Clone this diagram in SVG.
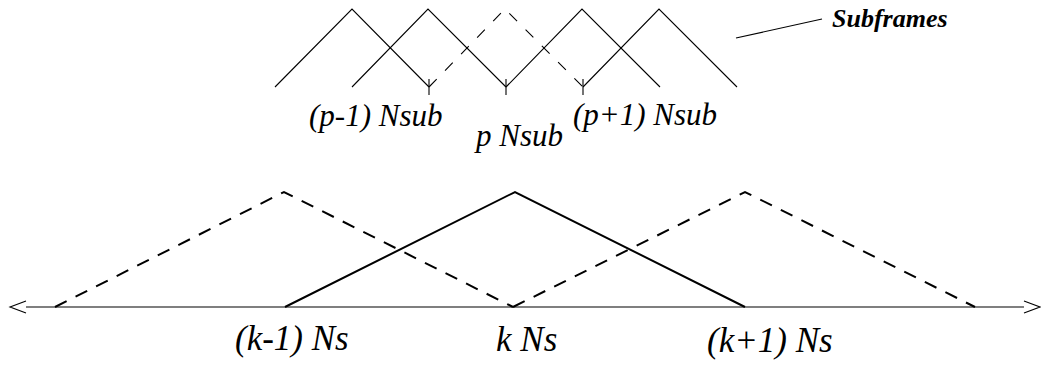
<svg xmlns="http://www.w3.org/2000/svg" width="1041" height="373" viewBox="0 0 1041 373">
<style>
.thin{fill:none;stroke:#000;stroke-width:1.1}
.thick{fill:none;stroke:#000;stroke-width:2}
.dash{stroke-dasharray:13 10}
.dashs{stroke-dasharray:11 12}
text{font-family:'Liberation Serif','Times New Roman',Times,serif;font-style:italic;fill:#000}
</style>
<g id="subframes">
<polyline class="thin" points="275,87 352,9 429,87"/>
<polyline class="thin" points="352,87 428,9 506,87"/>
<polyline class="thin dashs" points="429,87 505,9 583,87"/>
<polyline class="thin" points="506,87 582,9 660,87"/>
<polyline class="thin" points="583,87 659,9 737,87"/>
<line class="thin" x1="429" y1="79" x2="429" y2="95" stroke-width="1.6"/>
<line class="thin" x1="506" y1="79" x2="506" y2="95" stroke-width="1.6"/>
<line class="thin" x1="583" y1="79" x2="583" y2="95" stroke-width="1.6"/>
</g>
<g id="subframes-label">
<line class="thin" x1="736" y1="38" x2="822" y2="19"/>
<text x="832" y="27" font-size="26" font-weight="bold">Subframes</text>
</g>
<g id="sub-labels">
<text x="309" y="126" font-size="31">(p-1) Nsub</text>
<text x="476" y="146" font-size="31">p Nsub</text>
<text x="573" y="125" font-size="31">(p+1) Nsub</text>
</g>
<g id="connectors">
<line class="thin" x1="26" y1="307" x2="1024" y2="307" stroke-width="1.4"/>
<path d="M26,301 L10,307 L26,313" fill="none" stroke="#000" stroke-width="1.1"/>
<path d="M1024,301 L1040,307 L1024,313" fill="none" stroke="#000" stroke-width="1.1"/>
</g>
<g id="frames">
<polyline class="thick dash" points="55,307 284,192 513,307"/>
<polyline class="thick" points="285,307 515,192 745,307"/>
<polyline class="thick dash" points="513,307 745,192 975,307"/>
</g>
<g id="frame-labels">
<text x="235" y="350" font-size="35">(k-1) Ns</text>
<text x="496" y="351" font-size="35">k Ns</text>
<text x="707" y="352" font-size="35">(k+1) Ns</text>
</g>
</svg>
